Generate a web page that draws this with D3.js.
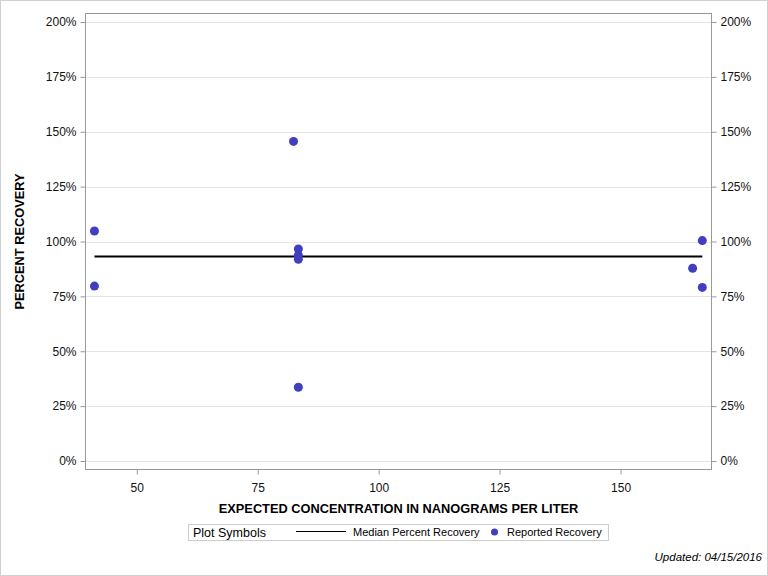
<!DOCTYPE html>
<html><head><meta charset="utf-8">
<script src="https://cdn.jsdelivr.net/npm/d3@7"></script>
<style>body{margin:0;background:#fff}svg{display:block}</style>
</head><body>
<script>
const expected = [41.25, 41.25, 82.4, 83.4, 83.4, 83.4, 83.4, 164.9, 166.9, 166.9];
const recovery = [104.8, 79.7, 145.6, 96.6, 93.8, 91.9, 33.6, 87.8, 100.4, 79.1];
const medianRange = [41.25, 166.9];
const medianValue = 93.2;
const xTicks = [50, 75, 100, 125, 150];
const yTicks = [0, 25, 50, 75, 100, 125, 150, 175, 200];

const W = 768, H = 576;
const L = 85.5, R = 711.5, T = 13.5, B = 469.5;
const svg = d3.select("body").append("svg").attr("width", W).attr("height", H)
  .style("font-family", "'Liberation Sans', Arial, sans-serif");

svg.append("rect").attr("x", 0.5).attr("y", 0.5).attr("width", W - 1).attr("height", H - 1)
  .attr("fill", "#fff").attr("stroke", "#d0d0d0");

const x = d3.scaleLinear().domain([39.4, 168.8]).range([L, R]);
const y = d3.scaleLinear().domain([0, 200]).range([461, 22]);

// grid
svg.append("g").selectAll("line").data(yTicks).join("line")
  .attr("x1", L).attr("x2", R)
  .attr("y1", d => Math.round(y(d)) + 0.5).attr("y2", d => Math.round(y(d)) + 0.5)
  .attr("stroke", "#e4e4e4");

// frame
svg.append("rect").attr("x", L).attr("y", T).attr("width", R - L).attr("height", B - T)
  .attr("fill", "none").attr("stroke", "#999");

const yFmt = d => d + "%";
const axL = svg.append("g").attr("transform", `translate(${L},0)`)
  .call(d3.axisLeft(y).tickValues(yTicks).tickFormat(yFmt).tickSize(5).tickPadding(4));
const axR = svg.append("g").attr("transform", `translate(${R},0)`)
  .call(d3.axisRight(y).tickValues(yTicks).tickFormat(yFmt).tickSize(5).tickPadding(4));
const axB = svg.append("g").attr("transform", `translate(0,${B})`)
  .call(d3.axisBottom(x).tickValues(xTicks).tickFormat(d3.format("d")).tickSize(5).tickPadding(9));
[axL, axR, axB].forEach(a => {
  a.select(".domain").remove();
  a.selectAll(".tick line").attr("stroke", "#999");
  a.selectAll(".tick text").attr("fill", "#111").style("font-size", "12px")
    .style("font-family", "'Liberation Sans', Arial, sans-serif");
});

// median line
svg.append("line")
  .attr("x1", x(medianRange[0])).attr("x2", x(medianRange[1]))
  .attr("y1", y(medianValue)).attr("y2", y(medianValue))
  .attr("stroke", "#000").attr("stroke-width", 2);

// points
svg.append("g").selectAll("circle").data(expected.map((e, i) => [e, recovery[i]])).join("circle")
  .attr("cx", d => x(d[0])).attr("cy", d => y(d[1])).attr("r", 4.5)
  .attr("fill", "#3f3fbf");

// axis titles
svg.append("text").attr("x", (L + R) / 2).attr("y", 513).attr("text-anchor", "middle")
  .style("font-size", "12.8px").style("font-weight", "bold").attr("fill", "#000")
  .text("EXPECTED CONCENTRATION IN NANOGRAMS PER LITER");
svg.append("text").attr("transform", `translate(24,${(T + B) / 2}) rotate(-90)`)
  .attr("text-anchor", "middle").style("font-size", "12.8px").style("font-weight", "bold")
  .attr("fill", "#000").text("PERCENT RECOVERY");

// legend
const lg = svg.append("g");
lg.append("rect").attr("x", 188.5).attr("y", 524.5).attr("width", 420).attr("height", 16)
  .attr("fill", "#fff").attr("stroke", "#ccc");
lg.append("text").attr("x", 193).attr("y", 537).style("font-size", "12.5px").attr("fill", "#000")
  .text("Plot Symbols");
lg.append("line").attr("x1", 296).attr("x2", 346).attr("y1", 531.5).attr("y2", 531.5)
  .attr("stroke", "#000").attr("stroke-width", 1);
lg.append("text").attr("x", 353).attr("y", 536).style("font-size", "11px").attr("fill", "#000")
  .text("Median Percent Recovery");
lg.append("circle").attr("cx", 494.5).attr("cy", 532).attr("r", 3.5).attr("fill", "#3f3fbf");
lg.append("text").attr("x", 507).attr("y", 536).style("font-size", "11px").attr("fill", "#000")
  .text("Reported Recovery");

svg.append("text").attr("x", 762).attr("y", 561).attr("text-anchor", "end")
  .style("font-size", "11.5px").style("font-style", "italic").attr("fill", "#000")
  .text("Updated: 04/15/2016");
</script>
</body></html>
